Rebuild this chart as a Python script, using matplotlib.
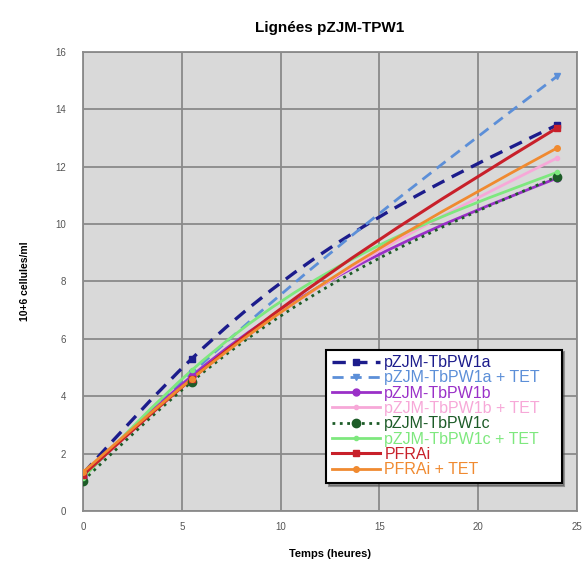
import matplotlib
matplotlib.use("Agg")
import matplotlib.pyplot as plt
from matplotlib.path import Path
from matplotlib.patches import PathPatch
from matplotlib.lines import Line2D

plt.rcParams["font.family"] = ["Liberation Sans", "DejaVu Sans"]

# temps (heures) et densités (10^6 cellules/ml)
temps = [0, 5.5, 24]

series = [
    "pZJM-TbPW1a",
    "pZJM-TbPW1a + TET",
    "pZJM-TbPW1b",
    "pZJM-TbPW1b + TET",
    "pZJM-TbPW1c",
    "pZJM-TbPW1c + TET",
    "PFRAi",
    "PFRAi + TET",
]
val_1a = [1.3, 5.3, 13.45]
val_1a_tet = [1.2, 4.8, 15.15]
val_1b = [1.2, 4.7, 11.6]
val_1b_tet = [1.25, 4.6, 12.3]
val_1c = [1.05, 4.5, 11.65]
val_1c_tet = [1.15, 4.9, 11.8]
val_pfrai = [1.25, 4.6, 13.35]
val_pfrai_tet = [1.35, 4.6, 12.65]

valeurs = [val_1a, val_1a_tet, val_1b, val_1b_tet,
           val_1c, val_1c_tet, val_pfrai, val_pfrai_tet]

couleurs = ["#1c1c8c", "#5c8fd8", "#9a30c8", "#f7a8d8",
            "#1d5c28", "#7ee87e", "#c8202a", "#f08a30"]
styles = [(0, (4, 2.5)), (0, (4, 2.5)), "-", "-", ":", "-", "-", "-"]
largeurs = [2.4, 2.0, 2.0, 2.0, 2.0, 2.0, 2.2, 2.0]
marqueurs = ["s", "v", "o", "o", "o", "o", "s", "o"]
tailles = [5, 4, 5, 3, 6, 3, 5, 4]


def courbe_lissee(xs, ys):
    # courbe de Bézier lissée (tangentes à pas non uniforme)
    n = len(xs)
    pentes = [(ys[i + 1] - ys[i]) / (xs[i + 1] - xs[i]) for i in range(n - 1)]
    tang = [0.0] * n
    for i in range(1, n - 1):
        h1 = xs[i] - xs[i - 1]
        h2 = xs[i + 1] - xs[i]
        tang[i] = (h2 * pentes[i - 1] + h1 * pentes[i]) / (h1 + h2)
    tang[0] = (3 * pentes[0] - tang[1]) / 2
    tang[-1] = (3 * pentes[-1] - tang[-2]) / 2
    verts = [(xs[0], ys[0])]
    codes = [Path.MOVETO]
    for i in range(n - 1):
        d = (xs[i + 1] - xs[i]) / 3
        verts += [(xs[i] + d, ys[i] + d * tang[i]),
                  (xs[i + 1] - d, ys[i + 1] - d * tang[i + 1]),
                  (xs[i + 1], ys[i + 1])]
        codes += [Path.CURVE4] * 3
    return Path(verts, codes)


fig = plt.figure(figsize=(5.86, 5.69), dpi=100)
ax = fig.add_axes([0.1416, 0.102, 0.843, 0.807])
ax.set_facecolor("#d9d9d9")

handles = []
for nom, ys, c, ls, lw, m, ms in zip(series, valeurs, couleurs, styles,
                                     largeurs, marqueurs, tailles):
    patch = PathPatch(courbe_lissee(temps, ys), fill=False, edgecolor=c,
                      linestyle=ls, linewidth=lw, zorder=3)
    ax.add_patch(patch)
    ax.plot(temps, ys, linestyle="none", marker=m, color=c,
            markersize=ms, zorder=4)
    handles.append(Line2D([], [], color=c, linestyle=ls, linewidth=lw,
                          marker=m, markersize=ms, label=nom))

ax.set_xlim(0, 25)
ax.set_ylim(0, 16)
ax.set_xticks([0, 5, 10, 15, 20, 25])
ax.set_yticks(range(0, 17, 2))
ax.grid(True, color="#8a8a8a", linewidth=1.3)
ax.set_axisbelow(True)
for s in ax.spines.values():
    s.set_color("#8a8a8a")
    s.set_linewidth(1.3)
ax.tick_params(colors="#555555", labelsize=7, length=0)
ax.tick_params(axis="y", pad=12)
ax.tick_params(axis="x", pad=8)

ax.set_title("Lignées pZJM-TPW1", fontsize=11, fontweight="bold", pad=14)
ax.set_xlabel("Temps (heures)", fontsize=8, fontweight="bold", labelpad=12)
ax.set_ylabel("10+6 cellules/ml", fontsize=7.5, fontweight="bold", labelpad=18)

leg = ax.legend(handles=handles, loc="lower left",
                bbox_to_anchor=(0.492, 0.061, 0.477, 0.298), mode="expand",
                fontsize=11.5, frameon=True, fancybox=False, shadow=True,
                handlelength=3.0, handletextpad=0.3, labelspacing=0.02,
                borderaxespad=0, borderpad=0.35)
leg.get_frame().set_edgecolor("black")
leg.get_frame().set_linewidth(1.5)
for txt, c in zip(leg.get_texts(), couleurs):
    txt.set_color(c)

fig.savefig("out.png", dpi=100, facecolor="white")
